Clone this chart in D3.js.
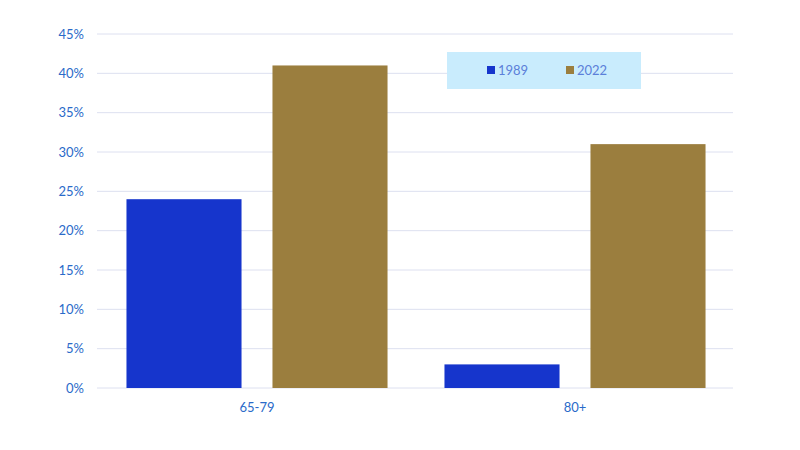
<!DOCTYPE html>
<html><head><meta charset="utf-8">
<script src="https://cdn.jsdelivr.net/npm/d3@7"></script>
<style>body{margin:0;background:#fff;} text{font-family:Lato,"Open Sans",sans-serif;}</style>
</head><body>
<svg id="c" width="800" height="450"></svg>
<script>
const categories = ["65-79", "80+"];
const seriesNames = ["1989", "2022"];
const values1989 = [24, 3];
const values2022 = [41, 31];
const yTicks = [0, 5, 10, 15, 20, 25, 30, 35, 40, 45];
const colors = ["#1635cc", "#9b7e3e"];

const svg = d3.select("#c");
const m = {l: 97, r: 733, t: 34, b: 388};
const x0 = d3.scaleBand().domain(categories).range([m.l + 1, m.r + 1]).padding(0);
const x1 = d3.scaleBand().domain(seriesNames).range([0, x0.bandwidth()]).paddingInner(0.212).paddingOuter(0.195);
const y = d3.scaleLinear().domain([0, 45]).range([m.b, m.t]);

svg.append("g").selectAll("line").data(yTicks).join("line")
  .attr("x1", m.l).attr("x2", m.r).attr("y1", d => y(d)).attr("y2", d => y(d))
  .attr("stroke", "#dde0f0").attr("stroke-width", 1);

svg.append("g").selectAll("text").data(yTicks).join("text")
  .attr("x", 84).attr("y", d => y(d)).attr("dy", "0.35em").attr("text-anchor", "end")
  .attr("font-size", 13).attr("fill", "#2a6ac9").text(d => d + "%");

const data = categories.map((c, i) => ({c, vals: [values1989[i], values2022[i]]}));
const g = svg.append("g").selectAll("g").data(data).join("g")
  .attr("transform", d => `translate(${x0(d.c)},0)`);
g.selectAll("rect").data(d => d.vals.map((v, j) => ({s: seriesNames[j], v, j}))).join("rect")
  .attr("x", d => x1(d.s)).attr("width", x1.bandwidth())
  .attr("y", d => y(d.v)).attr("height", d => y(0) - y(d.v))
  .attr("fill", d => colors[d.j]);

svg.append("g").selectAll("text").data(categories).join("text")
  .attr("x", d => x0(d) + x0.bandwidth() / 2).attr("y", 412).attr("text-anchor", "middle")
  .attr("font-size", 13).attr("fill", "#2a6ac9").text(d => d);

const lg = svg.append("g");
lg.append("rect").attr("x", 447).attr("y", 52).attr("width", 194).attr("height", 37).attr("fill", "#c9ecfd");
const lx = [487, 566];
seriesNames.forEach((s, i) => {
  lg.append("rect").attr("x", lx[i]).attr("y", 66).attr("width", 8).attr("height", 8).attr("fill", colors[i]);
  lg.append("text").attr("x", lx[i] + 11).attr("y", 70).attr("dy", "0.35em").attr("font-size", 13)
    .attr("fill", "#5b7fd9").text(s);
});
</script>
</body></html>
